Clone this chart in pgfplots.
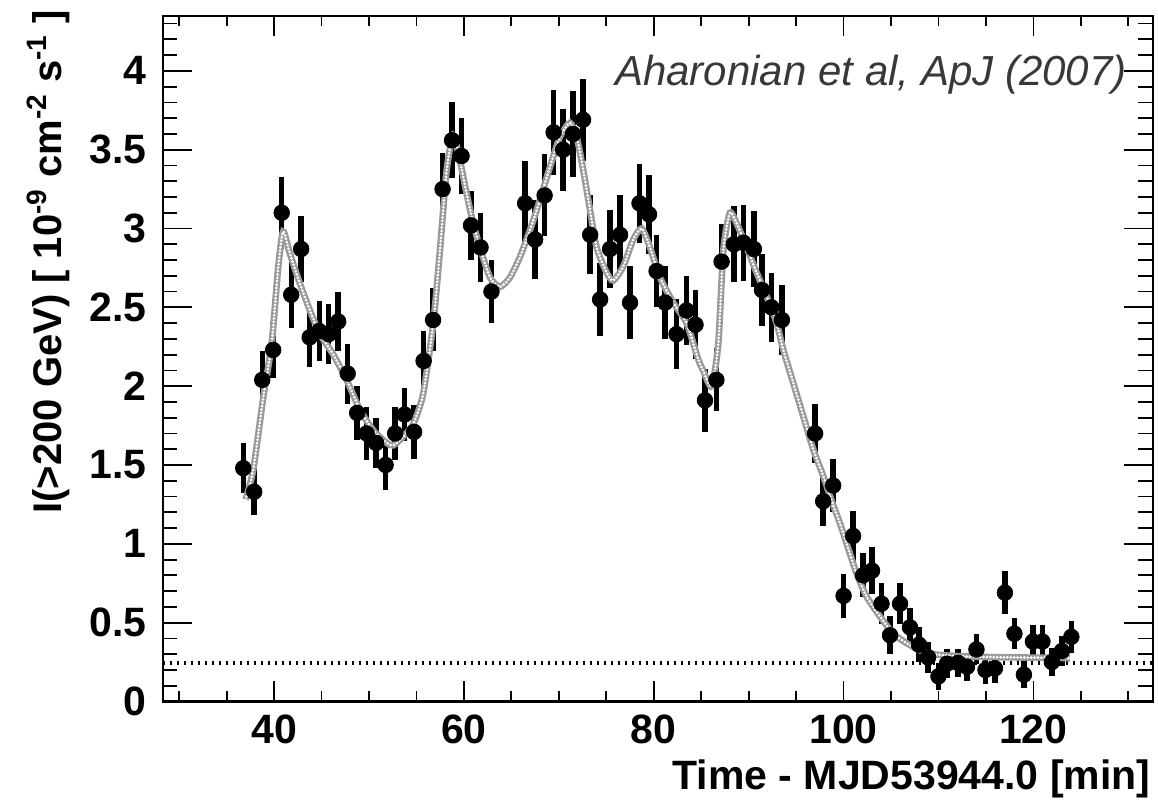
\documentclass[border=0pt]{standalone}
\usepackage{pgfplots}
\pgfplotsset{compat=1.18}
\usepackage{pgfplotstable}
\usepackage{fontspec}
\setmainfont{Liberation Sans}

\pgfplotstableread{
t v e
36.75 1.48 0.16
37.9 1.33 0.15
38.75 2.04 0.18
39.9 2.23 0.18
40.8 3.10 0.23
41.8 2.58 0.21
42.85 2.87 0.21
43.75 2.31 0.19
44.75 2.35 0.19
45.75 2.33 0.19
46.75 2.41 0.19
47.75 2.08 0.19
48.75 1.83 0.17
49.75 1.70 0.17
50.75 1.64 0.16
51.75 1.50 0.16
52.75 1.70 0.17
53.75 1.82 0.17
54.75 1.71 0.17
55.75 2.16 0.19
56.75 2.42 0.20
57.75 3.25 0.23
58.75 3.56 0.24
59.75 3.46 0.24
60.75 3.02 0.22
61.75 2.88 0.22
62.9 2.60 0.20
66.45 3.16 0.27
67.5 2.93 0.25
68.5 3.21 0.26
69.45 3.61 0.27
70.45 3.50 0.26
71.5 3.60 0.27
72.55 3.69 0.26
73.3 2.96 0.25
74.35 2.55 0.23
75.4 2.87 0.25
76.45 2.96 0.25
77.5 2.53 0.23
78.5 3.16 0.25
79.5 3.09 0.25
80.3 2.73 0.23
81.2 2.53 0.23
82.4 2.33 0.22
83.45 2.48 0.22
84.4 2.39 0.22
85.4 1.91 0.20
86.6 2.04 0.20
87.15 2.79 0.24
88.45 2.90 0.24
89.45 2.91 0.24
90.55 2.87 0.24
91.4 2.61 0.23
92.4 2.50 0.22
93.5 2.42 0.22
97.0 1.70 0.19
97.85 1.27 0.16
98.9 1.37 0.17
100.0 0.67 0.14
101.0 1.05 0.16
102.05 0.80 0.14
103.0 0.83 0.15
104.0 0.62 0.13
104.9 0.42 0.12
105.95 0.62 0.13
107.0 0.47 0.12
107.95 0.36 0.11
108.9 0.28 0.10
110.0 0.16 0.085
110.9 0.24 0.09
112.05 0.245 0.09
113.0 0.22 0.09
114.0 0.33 0.095
114.95 0.20 0.09
115.95 0.21 0.09
117.0 0.69 0.135
118.0 0.43 0.10
119.0 0.17 0.085
119.95 0.38 0.105
120.95 0.38 0.105
121.95 0.25 0.09
123.0 0.32 0.095
124.0 0.41 0.10
}\lcdata

\pgfplotstableread{
t v
37.0 1.28
37.8 1.47
38.86 1.93
39.74 2.27
40.44 2.76
40.95 2.98
41.67 2.84
42.72 2.65
43.78 2.48
44.83 2.33
46.24 2.20
47.64 2.04
49.05 1.85
50.45 1.72
51.86 1.64
52.56 1.625
53.6 1.68
54.66 1.76
55.7 1.95
56.77 2.40
57.47 2.86
58.18 3.37
58.88 3.59
59.58 3.43
60.29 3.22
60.98 3.03
61.69 2.88
62.74 2.69
63.8 2.63
64.85 2.69
65.9 2.82
66.96 2.99
68.0 3.18
69.06 3.39
70.11 3.58
71.17 3.67
71.88 3.58
72.57 3.37
73.28 3.12
73.98 2.88
75.04 2.72
75.74 2.67
76.79 2.76
77.84 2.93
78.73 3.00
79.6 2.88
80.65 2.69
82.06 2.53
83.46 2.40
84.69 2.17
85.2 2.10
86.1 2.00
86.8 2.27
87.33 2.86
88.03 3.10
88.9 3.01
89.79 2.88
90.84 2.72
91.9 2.57
92.95 2.40
93.65 2.23
94.7 2.02
95.75 1.81
96.8 1.60
97.86 1.43
98.7 1.28
99.62 1.13
100.33 1.00
101.38 0.81
102.43 0.665
103.83 0.54
105.24 0.43
106.65 0.37
108.4 0.315
110.16 0.295
113.67 0.284
117.18 0.28
122.45 0.277
123.85 0.274
}\fitdata

\begin{document}
\begin{tikzpicture}
\begin{axis}[
  scale only axis,
  width=495pt, height=342.9pt,
  xmin=28.26, xmax=132.57, ymin=0, ymax=4.35,
  axis line style={line width=1.1pt, black},
  xtick={40,60,80,100,120},
  minor xtick={30,35,...,130},
  ytick={0,0.5,...,4},
  minor ytick={0,0.1,...,4.31},
  tick align=inside,
  tick style={black, line width=0.9pt},
  major tick length=14.5pt, minor tick length=7.3pt,
  xtick style={/pgfplots/major tick length=10pt, /pgfplots/minor tick length=5pt},
  /pgf/number format/assume math mode=true,
  ticklabel style={font=\fontsize{20.5}{24}\selectfont\bfseries},
  yticklabel style={xshift=-4.5pt},
  xticklabel style={yshift=-3pt},
]
\addplot[black, line width=2.2pt, dash pattern=on 1.3pt off 2.2pt] coordinates {(28.26,0.245) (132.57,0.245)};
\addplot[black, only marks, mark=*, mark size=3.9pt,
  error bars/.cd, y dir=both, y explicit, error mark=none,
  error bar style={line width=2.7pt, black}]
  table[x=t, y=v, y error=e] {\lcdata};
\addplot[gray!80, line width=3.3pt, smooth, tension=0.4] table[x=t, y=v] {\fitdata};
\addplot[white, line width=1.5pt, line cap=round, dash pattern=on 0pt off 1.7pt, smooth, tension=0.4] table[x=t, y=v] {\fitdata};
\node[anchor=base east, inner sep=0pt, text=black!78, font=\fontsize{21}{24}\selectfont\itshape] at (axis cs:129.86,3.909) {Aharonian et al, ApJ (2007)};
\end{axis}
\node[anchor=base east, inner sep=0pt, font=\fontsize{20.5}{24}\selectfont\bfseries] at ([xshift=-1pt, yshift=-44.25pt]current axis.south east) {Time - MJD53944.0 [min]};
\node[rotate=90, anchor=base east, inner sep=0pt, font=\fontsize{20}{24}\selectfont\bfseries] at ([xshift=-50.35pt, yshift=3pt]current axis.north west) {I(>200 GeV) [ 10\textsuperscript{-9} cm\textsuperscript{-2} s\textsuperscript{-1} ]};
\pgfresetboundingbox
\path[use as bounding box] ([xshift=-81.35pt, yshift=-50.25pt]current axis.south west) rectangle ([xshift=2.65pt, yshift=7.85pt]current axis.north east);
\end{tikzpicture}
\end{document}
